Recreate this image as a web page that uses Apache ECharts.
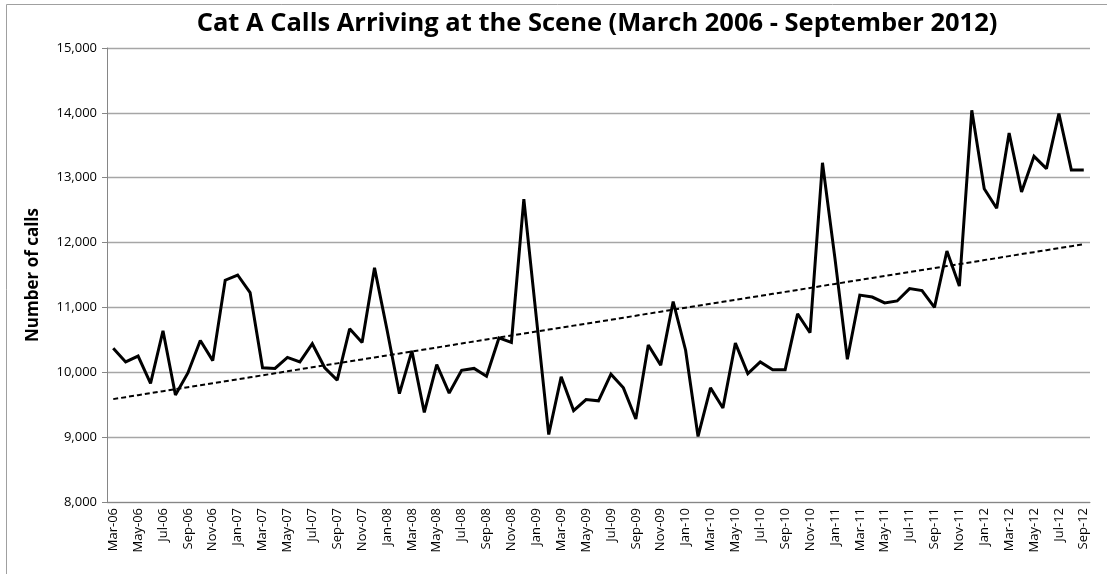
<!DOCTYPE html>
<html>
<head>
<meta charset="utf-8">
<title>Cat A Calls Arriving at the Scene</title>
<script src="https://cdn.jsdelivr.net/npm/echarts@6.0.0/dist/echarts.min.js"></script>
<style>
    html, body { margin: 0; padding: 0; background: #ffffff; }
    #chart { width: 1107px; height: 574px; }
</style>
</head>
<body>
<div id="chart"></div>
<script>
// Monthly Cat A calls arriving at the scene, Mar-06 .. Sep-12
const months = [
    "Mar-06", "Apr-06", "May-06", "Jun-06", "Jul-06", "Aug-06", "Sep-06", "Oct-06", "Nov-06", "Dec-06",
    "Jan-07", "Feb-07", "Mar-07", "Apr-07", "May-07", "Jun-07", "Jul-07", "Aug-07", "Sep-07", "Oct-07", "Nov-07", "Dec-07",
    "Jan-08", "Feb-08", "Mar-08", "Apr-08", "May-08", "Jun-08", "Jul-08", "Aug-08", "Sep-08", "Oct-08", "Nov-08", "Dec-08",
    "Jan-09", "Feb-09", "Mar-09", "Apr-09", "May-09", "Jun-09", "Jul-09", "Aug-09", "Sep-09", "Oct-09", "Nov-09", "Dec-09",
    "Jan-10", "Feb-10", "Mar-10", "Apr-10", "May-10", "Jun-10", "Jul-10", "Aug-10", "Sep-10", "Oct-10", "Nov-10", "Dec-10",
    "Jan-11", "Feb-11", "Mar-11", "Apr-11", "May-11", "Jun-11", "Jul-11", "Aug-11", "Sep-11", "Oct-11", "Nov-11", "Dec-11",
    "Jan-12", "Feb-12", "Mar-12", "Apr-12", "May-12", "Jun-12", "Jul-12", "Aug-12", "Sep-12"
]

const calls = [
    10370, 10160, 10250, 9830, 10640, 9650, 9990, 10490, 10180, 11420,
    11500, 11230, 10070, 10060, 10230, 10160, 10440, 10070, 9880, 10670, 10460, 11610,
    10660, 9670, 10330, 9380, 10120, 9680, 10030, 10060, 9940, 10530, 10460, 12670,
    10850, 9040, 9930, 9410, 9580, 9560, 9970, 9760, 9280, 10420, 10110, 11090,
    10340, 9010, 9760, 9450, 10450, 9980, 10160, 10040, 10040, 10900, 10610, 13230,
    11760, 10200, 11190, 11160, 11070, 11100, 11290, 11260, 11000, 11870, 11330, 14040,
    12830, 12530, 13690, 12780, 13330, 13140, 13990, 13120, 13120
]

const yMin = 8000
const yMax = 15000
const yStep = 1000

// Least-squares linear trend, like Excel's trendline
function linearTrend(values) {
    const n = values.length
    let sx = 0, sy = 0, sxx = 0, sxy = 0
    values.forEach((v, i) => {
        sx += i; sy += v; sxx += i * i; sxy += i * v
    })
    const slope = (n * sxy - sx * sy) / (n * sxx - sx * sx)
    const intercept = (sy - slope * sx) / n
    return values.map((v, i) => +(intercept + slope * i).toFixed(1))
}

const trend = linearTrend(calls)

const font = "'Open Sans', 'Liberation Sans', sans-serif"

const chart = echarts.init(document.getElementById("chart"), null, { renderer: "canvas" })

const option = {
    backgroundColor: "#ffffff",
    animation: false,
    title: {
        text: "Cat A Calls Arriving at the Scene (March 2006 - September 2012)",
        left: 592,
        top: 6,
        textAlign: "center",
        textStyle: {
            fontFamily: font,
            fontSize: 25.5,
            fontWeight: "bold",
            color: "#000000",
        },
    },
    graphic: [
        {
            type: "rect",
            shape: { x: 6.5, y: 4.5, width: 1110, height: 590 },
            style: { fill: "none", stroke: "#a0a0a0", lineWidth: 1 },
            silent: true,
        },
    ],
    grid: {
        left: 107,
        right: 17,
        top: 48,
        bottom: 72,
    },
    xAxis: {
        type: "category",
        data: months,
        boundaryGap: true,
        axisLine: { lineStyle: { color: "#868686", width: 1 } },
        axisTick: { interval: 1, length: 4, lineStyle: { color: "#868686" } },
        axisLabel: {
            interval: 1,
            rotate: 90,
            margin: 6,
            fontFamily: font,
            fontSize: 13,
            color: "#000000",
        },
    },
    yAxis: {
        type: "value",
        min: yMin,
        max: yMax,
        interval: yStep,
        name: "Number of calls",
        nameLocation: "middle",
        nameGap: 65,
        nameTextStyle: {
            fontFamily: font,
            fontSize: 17,
            fontWeight: "bold",
            color: "#000000",
        },
        axisLine: { show: true, lineStyle: { color: "#868686", width: 1 } },
        axisTick: { show: true, length: 5, lineStyle: { color: "#868686" } },
        axisLabel: {
            margin: 10,
            fontFamily: font,
            fontSize: 13,
            color: "#000000",
            formatter: (v) => v.toLocaleString("en-US"),
        },
        splitLine: { lineStyle: { color: "#a6a6a6", width: 1.3 } },
    },
    series: [
        {
            name: "Calls",
            type: "line",
            data: calls,
            showSymbol: false,
            lineStyle: { color: "#000000", width: 3, join: "miter", miterLimit: 2 },
            z: 3,
        },
        {
            name: "Trend",
            type: "line",
            data: trend,
            showSymbol: false,
            lineStyle: { color: "#000000", width: 2, type: [5, 3] },
            z: 2,
        },
    ],
}

chart.setOption(option)

window.addEventListener("resize", () => {
    chart.resize()
})
</script>
</body>
</html>
